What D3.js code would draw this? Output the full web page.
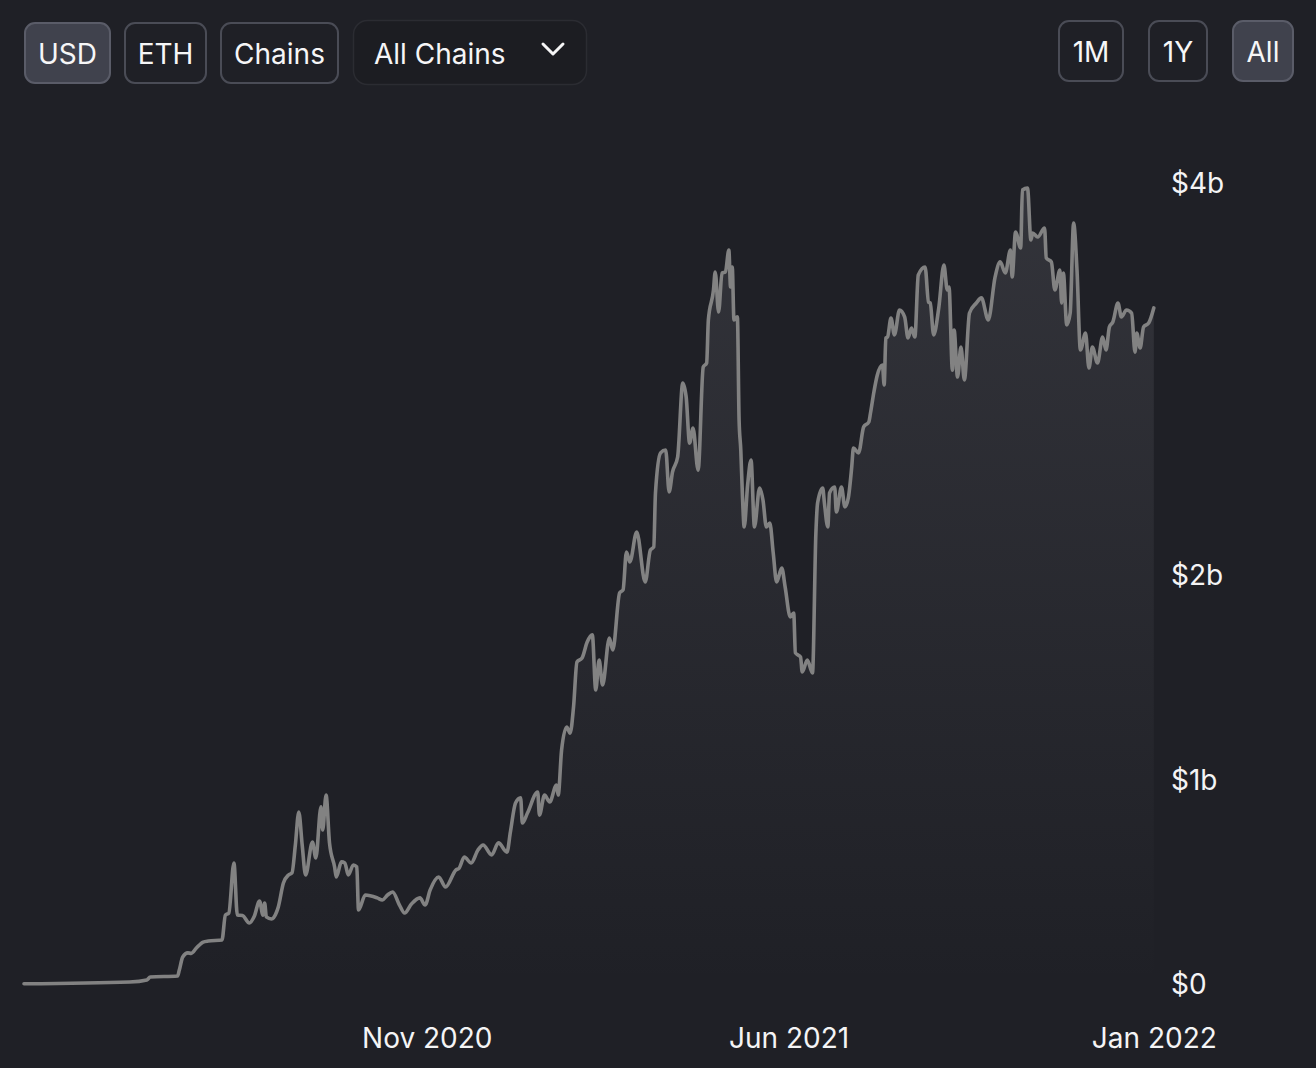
<!DOCTYPE html>
<html>
<head>
<meta charset="utf-8">
<script src="https://cdn.jsdelivr.net/npm/d3@7"></script>
<style>
  html, body { margin: 0; padding: 0; background: #1f2026; }
  svg { display: block; }
  text { font-family: Inter, "Noto Sans", sans-serif; }
</style>
</head>
<body>
<svg id="chart" width="1316" height="1068"></svg>
<script>
// ---------- DATA ----------
const dates = [
  "2020-03-10","2020-05-11","2020-05-21","2020-05-23","2020-06-08","2020-06-09","2020-06-11","2020-06-14","2020-06-16","2020-06-19",
  "2020-06-23","2020-06-26","2020-07-04","2020-07-06","2020-07-08","2020-07-11","2020-07-13","2020-07-16","2020-07-20","2020-07-23",
  "2020-07-26","2020-07-28","2020-07-29","2020-07-30","2020-08-02","2020-08-05","2020-08-06","2020-08-09","2020-08-12","2020-08-14",
  "2020-08-16","2020-08-18","2020-08-20","2020-08-22","2020-08-26","2020-08-28","2020-08-31","2020-09-01","2020-09-03","2020-09-05",
  "2020-09-08","2020-09-09","2020-09-12","2020-09-14","2020-09-16","2020-09-19","2020-09-21","2020-09-22","2020-09-26","2020-10-03",
  "2020-10-06","2020-10-09","2020-10-12","2020-10-16","2020-10-19","2020-10-23","2020-10-28","2020-10-31","2020-11-03","2020-11-08",
  "2020-11-12","2020-11-18","2020-11-20","2020-11-23","2020-11-27","2020-12-01","2020-12-04","2020-12-09","2020-12-13","2020-12-18",
  "2020-12-20","2020-12-23","2020-12-26","2020-12-27","2020-12-30","2021-01-05","2021-01-06","2021-01-09","2021-01-12","2021-01-16",
  "2021-01-17","2021-01-19","2021-01-22","2021-01-24","2021-01-26","2021-01-28","2021-01-31","2021-02-03","2021-02-06","2021-02-08",
  "2021-02-10","2021-02-12","2021-02-16","2021-02-18","2021-02-22","2021-02-24","2021-02-26","2021-02-28","2021-03-04","2021-03-09",
  "2021-03-12","2021-03-14","2021-03-15","2021-03-18","2021-03-21","2021-03-23","2021-03-25","2021-03-28","2021-03-31","2021-04-02",
  "2021-04-04","2021-04-06","2021-04-09","2021-04-12","2021-04-14","2021-04-15","2021-04-18","2021-04-19","2021-04-21","2021-04-23",
  "2021-04-25","2021-04-27","2021-04-28","2021-04-29","2021-04-30","2021-05-02","2021-05-03","2021-05-04","2021-05-05","2021-05-06",
  "2021-05-08","2021-05-10","2021-05-12","2021-05-15","2021-05-17","2021-05-19","2021-05-21","2021-05-23","2021-05-25","2021-05-28",
  "2021-05-30","2021-06-02","2021-06-04","2021-06-05","2021-06-08","2021-06-09","2021-06-12","2021-06-15","2021-06-17","2021-06-18",
  "2021-06-21","2021-06-22","2021-06-24","2021-06-25","2021-06-28","2021-06-29","2021-07-02","2021-07-04","2021-07-06","2021-07-08",
  "2021-07-09","2021-07-12","2021-07-15","2021-07-18","2021-07-19","2021-07-21","2021-07-23","2021-07-26","2021-07-27","2021-07-28",
  "2021-07-29","2021-07-31","2021-08-02","2021-08-05","2021-08-08","2021-08-10","2021-08-12","2021-08-14","2021-08-16","2021-08-20",
  "2021-08-22","2021-08-23","2021-08-25","2021-08-28","2021-08-31","2021-09-02","2021-09-03","2021-09-05","2021-09-06","2021-09-08",
  "2021-09-10","2021-09-12","2021-09-15","2021-09-19","2021-09-22","2021-09-26","2021-09-30","2021-10-03","2021-10-06","2021-10-09",
  "2021-10-10","2021-10-12","2021-10-15","2021-10-16","2021-10-19","2021-10-21","2021-10-22","2021-10-25","2021-10-29","2021-10-30",
  "2021-11-02","2021-11-04","2021-11-07","2021-11-08","2021-11-09","2021-11-11","2021-11-13","2021-11-15","2021-11-17","2021-11-19",
  "2021-11-22","2021-11-24","2021-11-26","2021-11-29","2021-12-02","2021-12-04","2021-12-06","2021-12-08","2021-12-11","2021-12-13",
  "2021-12-16","2021-12-19","2021-12-21","2021-12-22","2021-12-24","2021-12-26","2021-12-29","2022-01-01"
];
// TVL in billions of USD
const tvlBillions = [
  0.001,0.010,0.020,0.034,0.039,0.068,0.132,0.152,0.150,0.176,
  0.205,0.210,0.215,0.337,0.347,0.592,0.337,0.335,0.298,0.333,
  0.406,0.337,0.396,0.328,0.318,0.352,0.377,0.494,0.533,0.543,
  0.680,0.841,0.680,0.533,0.694,0.616,0.866,0.753,0.924,0.690,
  0.572,0.523,0.597,0.592,0.533,0.582,0.572,0.362,0.435,0.421,
  0.411,0.435,0.450,0.386,0.347,0.391,0.421,0.386,0.460,0.523,
  0.474,0.557,0.567,0.621,0.592,0.655,0.680,0.631,0.690,0.645,
  0.743,0.885,0.910,0.787,0.836,0.939,0.826,0.924,0.890,0.973,
  0.924,1.144,1.257,1.227,1.355,1.575,1.594,1.672,1.707,1.438,
  1.584,1.462,1.692,1.633,1.912,1.927,2.112,2.064,2.210,1.966,
  2.122,2.137,2.401,2.597,2.611,2.406,2.504,2.577,2.939,2.870,
  2.645,2.719,2.513,3.017,3.037,3.247,3.394,3.482,3.286,3.477,
  3.482,3.589,3.408,3.506,3.247,3.262,2.758,2.611,2.381,2.235,
  2.440,2.562,2.235,2.425,2.367,2.235,2.254,2.108,1.966,2.034,
  1.941,1.795,1.814,1.619,1.599,1.526,1.584,1.521,2.205,2.352,
  2.425,2.352,2.235,2.401,2.430,2.308,2.430,2.333,2.377,2.528,
  2.621,2.597,2.724,2.748,2.792,2.895,2.978,3.027,2.929,3.159,
  3.164,3.257,3.174,3.296,3.262,3.159,3.208,3.164,3.467,3.506,
  3.335,3.330,3.174,3.306,3.516,3.394,3.408,3.002,3.198,2.968,
  3.115,2.954,3.281,3.330,3.355,3.247,3.457,3.531,3.477,3.589,
  3.457,3.677,3.599,3.883,3.892,3.638,3.672,3.653,3.697,3.550,
  3.531,3.394,3.491,3.330,3.477,3.223,3.281,3.721,3.491,3.100,
  3.183,3.012,3.115,3.037,3.164,3.100,3.213,3.237,3.330,3.262,
  3.296,3.281,3.090,3.183,3.110,3.213,3.232,3.306
];
const xTickDates = ["2020-11-01", "2021-06-01", "2022-01-01"];
const xTickLabels = ["Nov 2020", "Jun 2021", "Jan 2022"];
const yTickValues = [0, 1, 2, 3.917];
const yTickLabels = ["$0", "$1b", "$2b", "$4b"];
const leftButtons = ["USD", "ETH", "Chains"];
const dropdownLabel = "All Chains";
const rightButtons = ["1M", "1Y", "All"];

// ---------- SETUP ----------
const parse = d3.timeParse("%Y-%m-%d");
const data = dates.map((d, i) => ({ date: parse(d), value: tvlBillions[i] }));

const svg = d3.select("#chart");
const BG = "#1f2026";
svg.append("rect").attr("width", 1316).attr("height", 1068).attr("fill", BG);

const x = d3.scaleTime()
  .domain([parse("2020-03-10"), parse("2022-01-01")])
  .range([24, 1153.8]);
const y = d3.scaleLinear()
  .domain([0, 4])
  .range([984, 984 - 4 * 204.5]);

// gradient
const defs = svg.append("defs");
const grad = defs.append("linearGradient")
  .attr("id", "areaGrad")
  .attr("gradientUnits", "userSpaceOnUse")
  .attr("x1", 0).attr("x2", 0)
  .attr("y1", y(3.9)).attr("y2", y(0));
grad.append("stop").attr("offset", "0%").attr("stop-color", "#9a9aa4").attr("stop-opacity", 0.16);
grad.append("stop").attr("offset", "100%").attr("stop-color", "#9a9aa4").attr("stop-opacity", 0);

const area = d3.area()
  .x(d => x(d.date))
  .y0(y(0))
  .y1(d => y(d.value))
  .curve(d3.curveMonotoneX);
const line = d3.line()
  .x(d => x(d.date))
  .y(d => y(d.value))
  .curve(d3.curveMonotoneX);

svg.append("path").datum(data).attr("d", area).attr("fill", "url(#areaGrad)");
svg.append("path").datum(data).attr("d", line)
  .attr("fill", "none")
  .attr("stroke", "#828282")
  .attr("stroke-width", 3.6)
  .attr("stroke-linejoin", "round")
  .attr("stroke-linecap", "round");

// y axis (right)
const yAxis = d3.axisRight(y)
  .tickValues(yTickValues)
  .tickSize(0)
  .tickPadding(0)
  .tickFormat((d, i) => yTickLabels[i]);
const gy = svg.append("g").attr("transform", "translate(1171,0)").call(yAxis);
gy.select(".domain").remove();
gy.selectAll("text")
  .attr("fill", "#f4f4f5")
  .attr("font-size", 28)
  .attr("font-family", "Inter, sans-serif")
  .attr("dy", "0.35em");

// x axis
const xAxis = d3.axisBottom(x)
  .tickValues(xTickDates.map(parse))
  .tickSize(0)
  .tickPadding(0)
  .tickFormat((d, i) => xTickLabels[i]);
const gx = svg.append("g").attr("transform", "translate(0,1038)").call(xAxis);
gx.select(".domain").remove();
gx.selectAll("text")
  .attr("fill", "#f4f4f5")
  .attr("font-size", 28)
  .attr("font-family", "Inter, sans-serif")
  .attr("dy", "0.35em");

// ---------- CONTROLS ----------
function button(g, label, bx, by, bw, bh, selected) {
  const b = g.append("g");
  b.append("rect")
    .attr("x", bx + 1).attr("y", by + 1)
    .attr("width", bw - 2).attr("height", bh - 2)
    .attr("rx", 10)
    .attr("fill", selected ? "#40424d" : BG)
    .attr("stroke", selected ? "#5a5c68" : "#4a4c56")
    .attr("stroke-width", 2);
  b.append("text")
    .attr("x", bx + bw / 2).attr("y", by + bh / 2 + 1)
    .attr("text-anchor", "middle")
    .attr("dominant-baseline", "central")
    .attr("font-size", 28)
    .attr("fill", "#f6f6f7")
    .text(label);
}
const controls = svg.append("g");
const leftBoxes = [[24, 87, true], [124, 83, false], [220, 119, false]];
leftButtons.forEach((lab, i) => button(controls, lab, leftBoxes[i][0], 22, leftBoxes[i][1], 62, leftBoxes[i][2]));

// dropdown
controls.append("rect")
  .attr("x", 353.5).attr("y", 20.5).attr("width", 233).attr("height", 64)
  .attr("rx", 14)
  .attr("fill", "#1c1d22")
  .attr("stroke", "#2b2c32")
  .attr("stroke-width", 1.5);
controls.append("text")
  .attr("x", 374).attr("y", 54)
  .attr("dominant-baseline", "central")
  .attr("font-size", 28)
  .attr("fill", "#f6f6f7")
  .text(dropdownLabel);
controls.append("path")
  .attr("d", "M543,44 L553,54 L563,44")
  .attr("fill", "none")
  .attr("stroke", "#f6f6f7")
  .attr("stroke-width", 3)
  .attr("stroke-linecap", "round")
  .attr("stroke-linejoin", "round");

const rightBoxes = [[1058, 66, false], [1148, 60, false], [1232, 62, true]];
rightButtons.forEach((lab, i) => button(controls, lab, rightBoxes[i][0], 20, rightBoxes[i][1], 62, rightBoxes[i][2]));
</script>
</body>
</html>
